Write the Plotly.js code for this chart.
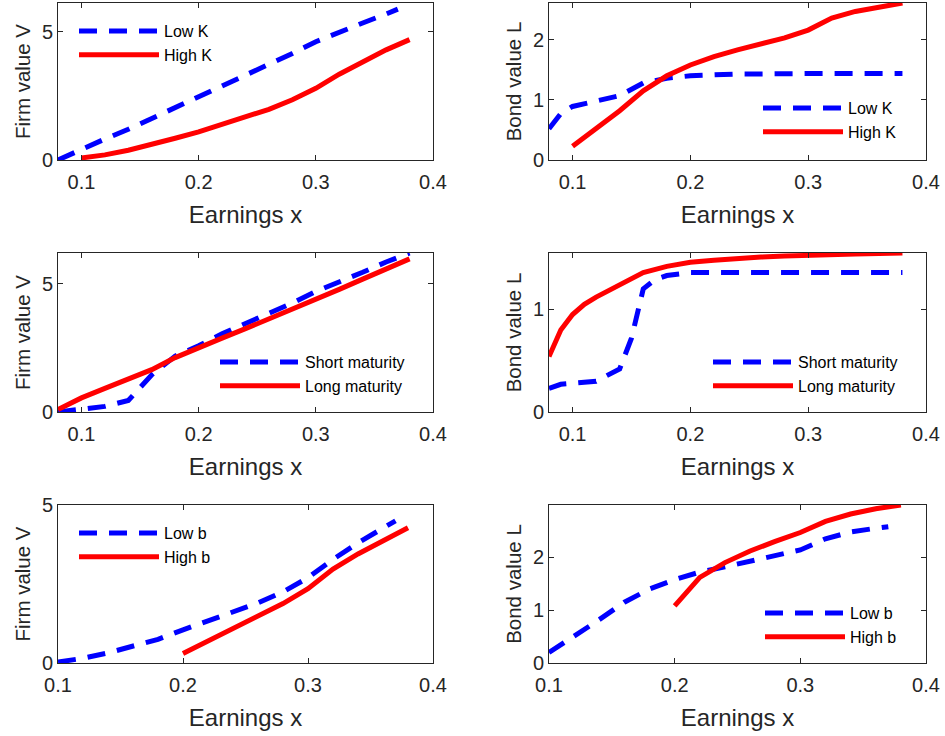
<!DOCTYPE html>
<html>
<head>
<meta charset="utf-8">
<script src="https://cdn.plot.ly/plotly-3.0.1.min.js"></script>
<style>html,body{margin:0;padding:0;background:#fff;}#chart{width:945px;height:736px;}</style>
</head>
<body>
<div id="chart"></div>
<script>
// ---- data ----
const xTicks = [0.1, 0.2, 0.3, 0.4];
const xTickText = ['0.1', '0.2', '0.3', '0.4'];

// Panel 1: Firm value V, Low K vs High K
const p1LowX  = [0.08,0.1,0.12,0.14,0.16,0.18,0.2,0.22,0.24,0.26,0.28,0.3,0.32,0.34,0.36,0.37];
const p1LowY  = [0,0.42,0.82,1.2,1.62,2.05,2.46,2.88,3.3,3.74,4.16,4.62,5.0,5.35,5.7,5.89];
const p1HighX = [0.1,0.12,0.14,0.16,0.18,0.2,0.22,0.24,0.26,0.28,0.3,0.32,0.34,0.36,0.38];
const p1HighY = [0.08,0.2,0.38,0.6,0.85,1.1,1.38,1.65,1.98,2.35,2.8,3.35,3.85,4.3,4.7];

// Panel 2: Bond value L, Low K vs High K
const p2LowX  = [0.08,0.09,0.1,0.12,0.14,0.16,0.18,0.2,0.22,0.24,0.26,0.28,0.3,0.32,0.34,0.36,0.38];
const p2LowY  = [0.52,0.77,0.89,0.98,1.07,1.28,1.36,1.4,1.42,1.43,1.43,1.44,1.44,1.44,1.44,1.44,1.44];
const p2HighX = [0.1,0.12,0.14,0.16,0.18,0.2,0.22,0.24,0.26,0.28,0.3,0.32,0.34,0.36,0.38];
const p2HighY = [0.23,0.52,0.82,1.15,1.4,1.58,1.72,1.83,1.93,2.03,2.16,2.36,2.47,2.55,2.61];

// Panel 3: Firm value V, Short vs Long maturity
const p3ShortX = [0.08,0.09,0.1,0.12,0.14,0.16,0.18,0.2,0.22,0.24,0.26,0.28,0.3,0.32,0.34,0.36,0.38];
const p3ShortY = [0,0.05,0.12,0.22,0.45,1.45,2.18,2.58,3.05,3.45,3.82,4.25,4.7,5.05,5.45,5.85,6.2];
const p3LongX  = [0.08,0.1,0.12,0.14,0.16,0.18,0.2,0.22,0.24,0.26,0.28,0.3,0.32,0.34,0.36,0.38];
const p3LongY  = [0.1,0.55,0.92,1.26,1.65,2.12,2.52,2.88,3.25,3.62,4.0,4.38,4.78,5.18,5.58,5.97];

// Panel 4: Bond value L, Short vs Long maturity
const p4ShortX = [0.08,0.09,0.1,0.12,0.14,0.15,0.16,0.17,0.18,0.19,0.2,0.22,0.24,0.26,0.28,0.3,0.32,0.34,0.36,0.38];
const p4ShortY = [0.23,0.27,0.28,0.3,0.42,0.72,1.2,1.29,1.33,1.35,1.36,1.36,1.36,1.36,1.36,1.36,1.36,1.36,1.36,1.36];
const p4LongX  = [0.08,0.09,0.1,0.11,0.12,0.14,0.16,0.18,0.2,0.22,0.24,0.26,0.28,0.3,0.32,0.34,0.36,0.38];
const p4LongY  = [0.54,0.8,0.95,1.05,1.12,1.24,1.36,1.42,1.46,1.48,1.5,1.51,1.52,1.53,1.535,1.54,1.545,1.55];

// Panel 5: Firm value V, Low b vs High b
const p5LowX  = [0.1,0.12,0.14,0.16,0.18,0.2,0.22,0.24,0.26,0.28,0.3,0.32,0.34,0.36,0.37];
const p5LowY  = [0.03,0.15,0.32,0.53,0.75,1.05,1.32,1.6,1.9,2.25,2.7,3.28,3.8,4.27,4.5];
const p5HighX = [0.2,0.22,0.24,0.26,0.28,0.3,0.32,0.34,0.36,0.38];
const p5HighY = [0.3,0.7,1.1,1.5,1.88,2.35,2.97,3.45,3.87,4.28];

// Panel 6: Bond value L, Low b vs High b
const p6LowX  = [0.1,0.12,0.14,0.16,0.18,0.2,0.22,0.24,0.26,0.28,0.3,0.32,0.34,0.36,0.37];
const p6LowY  = [0.2,0.5,0.82,1.15,1.4,1.58,1.72,1.82,1.92,2.02,2.14,2.35,2.48,2.55,2.58];
const p6HighX = [0.2,0.22,0.24,0.26,0.28,0.3,0.32,0.34,0.36,0.38];
const p6HighY = [1.08,1.62,1.9,2.12,2.3,2.47,2.68,2.82,2.92,2.99];

const legendNames = [
  ['Low K', 'High K'],
  ['Low K', 'High K'],
  ['Short maturity', 'Long maturity'],
  ['Short maturity', 'Long maturity'],
  ['Low b', 'High b'],
  ['Low b', 'High b']
];
const yTitles = ['Firm value V', 'Bond value L', 'Firm value V', 'Bond value L', 'Firm value V', 'Bond value L'];
const yTickSets = [[0,5],[0,1,2],[0,5],[0,1],[0,5],[0,1,2]];
const yRanges = [[0,6.13],[0,2.61],[0,6.2],[0,1.55],[0,5],[0,2.99]];
const xRanges = [[0.08,0.4],[0.08,0.4],[0.08,0.4],[0.08,0.4],[0.1,0.4],[0.1,0.4]];

const series = [
  [p1LowX, p1LowY, p1HighX, p1HighY],
  [p2LowX, p2LowY, p2HighX, p2HighY],
  [p3ShortX, p3ShortY, p3LongX, p3LongY],
  [p4ShortX, p4ShortY, p4LongX, p4LongY],
  [p5LowX, p5LowY, p5HighX, p5HighY],
  [p6LowX, p6LowY, p6HighX, p6HighY]
];

// ---- layout geometry (pixels in a 945x736 canvas) ----
const W = 945, H = 736;
const colPx = [[58, 433], [549, 926]];
const rowPx = [[3, 160], [253, 412], [505, 663]];
// legend anchor (left of line sample, center of first row) in px
const legPx = [[82, 27], [766, 104], [223, 358], [716, 358], [82, 529], [768, 609]];

const FONT = 'Liberation Sans, Arial, Helvetica, sans-serif';
const INK = '#262626';

const traces = [];
const layout = {
  width: W, height: H,
  margin: {l: 0, r: 0, t: 0, b: 0},
  paper_bgcolor: '#ffffff',
  plot_bgcolor: '#ffffff',
  font: {family: FONT, color: INK},
  showlegend: true
};

for (let i = 0; i < 6; i++) {
  const col = i % 2, row = Math.floor(i / 2);
  const n = i + 1;
  const xa = 'xaxis' + (n === 1 ? '' : n);
  const ya = 'yaxis' + (n === 1 ? '' : n);
  const xr = 'x' + (n === 1 ? '' : n);
  const yr = 'y' + (n === 1 ? '' : n);
  const lg = 'legend' + (n === 1 ? '' : n);
  const s = series[i];
  traces.push({
    x: s[0], y: s[1], xaxis: xr, yaxis: yr, legend: lg,
    type: 'scatter', mode: 'lines', name: legendNames[i][0],
    line: {color: '#0000ff', width: 5, dash: '18px,12px'}
  });
  traces.push({
    x: s[2], y: s[3], xaxis: xr, yaxis: yr, legend: lg,
    type: 'scatter', mode: 'lines', name: legendNames[i][1],
    line: {color: '#ff0000', width: 5}
  });
  const common = {
    showgrid: false, zeroline: false, showline: true, mirror: 'ticks',
    linecolor: INK, linewidth: 1, ticks: 'inside', ticklen: 5, tickwidth: 1,
    tickcolor: INK, tickfont: {family: FONT, size: 20, color: INK},
    automargin: false, fixedrange: true
  };
  layout[xa] = Object.assign({}, common, {
    domain: [colPx[col][0] / W, colPx[col][1] / W],
    anchor: yr, range: xRanges[i],
    tickmode: 'array', tickvals: xTicks, ticktext: xTickText,
    ticklabelstandoff: 4,
    title: {text: 'Earnings x', font: {family: FONT, size: 24, color: INK}, standoff: 14}
  });
  layout[ya] = Object.assign({}, common, {
    domain: [1 - rowPx[row][1] / H, 1 - rowPx[row][0] / H],
    anchor: xr, range: yRanges[i],
    tickmode: 'array', tickvals: yTickSets[i], ticktext: yTickSets[i].map(String),
    title: {text: yTitles[i], font: {family: FONT, size: 20.5, color: INK}, standoff: 5}
  });
  layout[lg] = {
    x: (legPx[i][0] - 8) / W, y: 1 - (legPx[i][1] - 13) / H,
    xanchor: 'left', yanchor: 'top',
    bgcolor: 'rgba(0,0,0,0)', borderwidth: 0,
    font: {family: FONT, size: 16, color: '#000000'},
    itemwidth: 80, tracegroupgap: 0
  };
}

Plotly.newPlot('chart', traces, layout, {staticPlot: true, displayModeBar: false});
</script>
</body>
</html>
